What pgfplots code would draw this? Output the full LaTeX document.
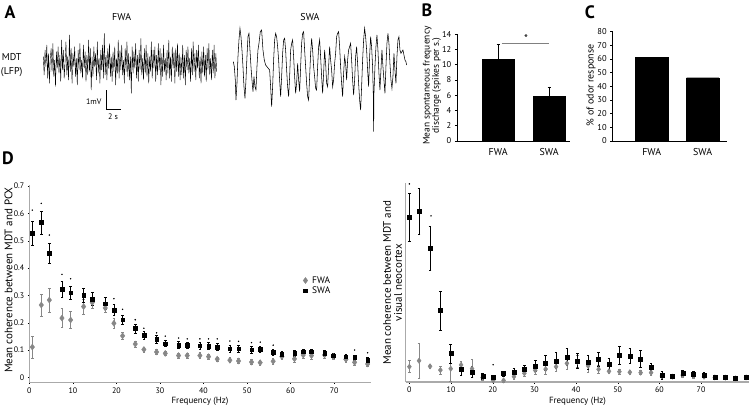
\documentclass[border=0pt]{standalone}
\usepackage{pgfplots}
\pgfplotsset{compat=1.18}
\usepackage{pgfplotstable}
\usepackage{fontspec}
\setmainfont{PT Sans}
\definecolor{fwagray}{RGB}{135,135,135}
\definecolor{axgray}{RGB}{170,170,170}
\newcommand{\fsz}[1]{\fontsize{#1}{#1}\selectfont}

% panel D, PCX coherence: frequency, mean, sem
\pgfplotstableread{
f v e
0.69 0.527 0.045
2.75 0.567 0.042
4.59 0.454 0.035
7.5 0.322 0.028
9.49 0.310 0.025
12.47 0.301 0.025
14.46 0.287 0.024
17.44 0.270 0.022
19.43 0.246 0.020
21.42 0.211 0.016
24.33 0.179 0.016
26.32 0.154 0.013
29.23 0.139 0.014
31.22 0.124 0.012
34.28 0.118 0.013
36.27 0.117 0.012
39.17 0.116 0.013
41.16 0.115 0.012
43.15 0.111 0.012
46.06 0.105 0.012
48.05 0.105 0.012
51.03 0.101 0.012
53.02 0.104 0.011
56.0 0.093 0.011
58.0 0.085 0.010
60.9 0.088 0.011
62.9 0.094 0.010
64.8 0.094 0.010
67.8 0.088 0.010
69.8 0.080 0.009
72.7 0.076 0.009
74.7 0.073 0.009
77.7 0.063 0.009
}\swapcx
\pgfplotstableread{
f v e
0.69 0.111 0.040
2.75 0.265 0.040
4.59 0.283 0.044
7.5 0.217 0.034
9.49 0.210 0.032
12.47 0.259 0.028
14.46 0.274 0.020
17.44 0.254 0.017
19.43 0.198 0.020
21.42 0.152 0.014
24.33 0.122 0.011
26.32 0.102 0.009
29.23 0.093 0.008
31.22 0.088 0.008
34.28 0.080 0.009
36.27 0.080 0.009
39.17 0.080 0.010
41.16 0.076 0.009
43.15 0.067 0.008
46.06 0.063 0.009
48.05 0.060 0.010
51.03 0.056 0.009
53.02 0.054 0.008
56.0 0.059 0.010
58.0 0.076 0.011
60.9 0.068 0.013
62.9 0.082 0.013
64.8 0.080 0.012
67.8 0.082 0.011
69.8 0.076 0.010
72.7 0.066 0.010
74.7 0.055 0.010
77.7 0.049 0.008
}\fwapcx
\pgfplotstableread{
f v
0.69 0.612
2.75 0.637
4.59 0.521
7.5 0.377
9.49 0.361
19.43 0.288
21.42 0.249
24.33 0.211
26.32 0.180
29.23 0.163
31.22 0.151
34.28 0.144
36.27 0.141
39.17 0.141
41.16 0.141
43.15 0.141
46.06 0.133
48.05 0.132
51.03 0.127
53.02 0.129
56.0 0.118
74.7 0.100
77.7 0.090
}\starpcx

% panel D, visual neocortex coherence (no scale given, 0..1 of the axis)
\pgfplotstableread{
f v e
0 0.829 0.119
2.32 0.859 0.117
4.96 0.673 0.109
7.44 0.359 0.099
9.92 0.143 0.048
12.4 0.062 0.027
15.04 0.050 0.027
17.6 0.030 0.015
20.1 0.025 0.010
22.6 0.042 0.012
25.1 0.050 0.017
27.6 0.064 0.022
30.2 0.081 0.026
32.7 0.097 0.039
35.2 0.107 0.040
37.8 0.126 0.042
40.3 0.107 0.038
42.9 0.101 0.035
45.4 0.114 0.037
47.9 0.091 0.028
50.4 0.133 0.045
52.9 0.131 0.038
55.5 0.117 0.041
58.0 0.077 0.018
60.6 0.034 0.020
63.1 0.029 0.012
65.6 0.044 0.015
68.2 0.039 0.013
70.7 0.035 0.014
73.3 0.025 0.010
75.8 0.025 0.008
78.3 0.018 0.008
80.8 0.023 0.008
}\swavis
\pgfplotstableread{
f v e
0 0.077 0.030
2.32 0.107 0.088
4.96 0.079 0.010
7.44 0.060 0.020
9.92 0.067 0.065
12.4 0.086 0.020
15.04 0.067 0.045
17.6 0.023 0.015
20.1 0.008 0.008
22.6 0.008 0.008
25.1 0.027 0.012
27.6 0.044 0.015
30.2 0.059 0.020
32.7 0.065 0.028
35.2 0.077 0.025
37.8 0.094 0.030
40.3 0.102 0.030
42.9 0.081 0.030
45.4 0.064 0.020
47.9 0.054 0.012
50.4 0.052 0.012
52.9 0.049 0.010
55.5 0.047 0.010
58.0 0.047 0.012
60.6 0.030 0.012
63.1 0.027 0.010
65.6 0.035 0.012
68.2 0.030 0.010
70.7 0.027 0.010
73.3 0.023 0.008
75.8 0.022 0.008
78.3 0.018 0.008
80.8 0.023 0.008
}\fwavis

\pgfplotsset{
  panel/.style={scale only axis, anchor=south west,
    tick label style={font=\fsz{8}},
    /pgf/number format/assume math mode=true},
  trace/.style={scale only axis, anchor=south west, hide axis, clip=false},
  barpanel/.style={panel, axis x line=bottom, axis y line=left,
    axis line style={-, black, line width=0.6bp},
    tick style={black, line width=0.6bp}, tick align=outside,
    major tick length=2.5bp, major x tick style={draw=none},
    xtick={0,1}, xticklabels={FWA,SWA},
    y tick label style={font=\fsz{8.5}},
    x tick label style={font=\fsz{10}, yshift=-1bp},
    ylabel style={font=\fsz{9.5}, align=center},
    ybar, bar width=0.63, ymin=0},
  cohpanel/.style={panel, axis x line=bottom, axis y line=left,
    axis line style={-, axgray, line width=1.3bp},
    tick style={black, line width=0.4bp}, tick align=outside,
    major tick length=1.5bp,
    xtick={0,10,...,70},
    xlabel={Frequency (Hz)}, xlabel style={font=\fsz{9}, yshift=3bp},
    ylabel style={font=\fsz{11}, align=center}},
  fwa/.style={only marks, mark=diamond*, mark size=3bp,
    mark options={fill=fwagray, draw=fwagray},
    error bars/y dir=both, error bars/y explicit,
    error bars/error bar style={fwagray, line width=0.6bp},
    error bars/error mark options={rotate=90, mark size=1.3bp, fwagray, line width=0.6bp}},
  swa/.style={only marks, mark=square*, mark size=1.8bp,
    mark options={fill=black, draw=black},
    error bars/y dir=both, error bars/y explicit,
    error bars/error bar style={black, line width=0.6bp},
    error bars/error mark options={rotate=90, mark size=1.3bp, black, line width=0.6bp}},
}

\begin{document}
\begin{tikzpicture}[x=1bp,y=1bp]

% ---------- A: LFP traces ----------
\begin{axis}[trace, at={(43.3bp,309.3bp)}, width=173.4bp, height=66.7bp,
  xmin=0, xmax=199, ymin=-100, ymax=100]
\addplot[black, line width=0.4bp] coordinates {
(0,20)(1,-35)(2,40)(3,-10)(4,55)(5,-45)(6,30)(7,-60)(8,15)(9,45)(10,-25)(11,60)(12,-40)(13,10)(14,-70)(15,35)(16,-15)(17,50)(18,-30)(19,25)
(20,-55)(21,70)(22,-20)(23,40)(24,-45)(25,5)(26,65)(27,-35)(28,20)(29,-50)(30,85)(31,-25)(32,45)(33,-60)(34,30)(35,-10)(36,50)(37,-40)(38,15)(39,-65)
(40,40)(41,-20)(42,60)(43,-30)(44,10)(45,-45)(46,55)(47,-15)(48,35)(49,-55)(50,25)(51,-35)(52,70)(53,-25)(54,45)(55,-80)(56,20)(57,-40)(58,50)(59,-10)
(60,30)(61,-50)(62,65)(63,-30)(64,15)(65,-60)(66,40)(67,-20)(68,55)(69,-45)(70,90)(71,-35)(72,25)(73,-50)(74,45)(75,-15)(76,60)(77,-40)(78,20)(79,-55)
(80,35)(81,-25)(82,50)(83,-65)(84,15)(85,-30)(86,70)(87,-45)(88,40)(89,-20)(90,55)(91,-35)(92,10)(93,-60)(94,45)(95,-25)(96,65)(97,-40)(98,30)(99,-50)
(100,20)(101,-90)(102,50)(103,-30)(104,35)(105,-15)(106,60)(107,-45)(108,25)(109,-55)(110,40)(111,-20)(112,75)(113,-35)(114,15)(115,-50)(116,45)(117,-30)(118,55)(119,-40)
(120,30)(121,-60)(122,20)(123,-25)(124,65)(125,-45)(126,40)(127,-15)(128,50)(129,-55)(130,25)(131,-35)(132,60)(133,-20)(134,45)(135,-65)(136,30)(137,-40)(138,55)(139,-25)
(140,15)(141,-50)(142,40)(143,-30)(144,70)(145,-45)(146,20)(147,-55)(148,50)(149,-15)(150,35)(151,-60)(152,45)(153,-25)(154,60)(155,-40)(156,30)(157,-50)(158,20)(159,-35)
(160,55)(161,-45)(162,25)(163,-65)(164,40)(165,-20)(166,50)(167,-30)(168,15)(169,-55)(170,45)(171,-35)(172,65)(173,-25)(174,30)(175,-50)(176,40)(177,-15)(178,55)(179,-45)
(180,20)(181,-60)(182,35)(183,-30)(184,50)(185,-40)(186,25)(187,-55)(188,45)(189,-20)(190,60)(191,-35)(192,15)(193,-50)(194,40)(195,-30)(196,55)(197,-45)(198,30)(199,-25)
};
\end{axis}

\begin{axis}[trace, at={(233.3bp,274.3bp)}, width=173.3bp, height=106.7bp,
  xmin=700, xmax=1220, ymin=-395, ymax=-75]
\addplot[black, line width=0.55bp] coordinates {
(700,-185)(703,-200)(706,-240)(708,-300)(711,-250)(714,-170)(717,-120)(720,-85)(723,-110)(726,-150)
(729,-200)(732,-260)(735,-295)(738,-240)(741,-170)(744,-110)(747,-100)(750,-150)(753,-200)(756,-240)
(759,-275)(762,-230)(765,-260)(768,-270)(771,-200)(774,-150)(777,-130)(781,-95)(785,-90)(789,-150)
(793,-180)(797,-195)(801,-200)(805,-205)(809,-210)(812,-260)(815,-320)(818,-260)(821,-180)(824,-120)
(827,-100)(830,-110)(833,-140)(836,-180)(839,-240)(842,-290)(845,-230)(848,-160)(851,-120)(854,-115)
(857,-150)(860,-210)(863,-260)(866,-290)(869,-230)(872,-150)(875,-130)(878,-120)(881,-170)(884,-230)
(887,-280)(890,-250)(893,-190)(896,-240)(899,-275)(902,-200)(905,-130)(908,-100)(911,-95)(914,-150)
(917,-200)(920,-250)(923,-290)(926,-300)(929,-230)(932,-160)(935,-115)(938,-150)(941,-200)(944,-230)
(947,-265)(950,-270)(953,-200)(956,-140)(959,-120)(962,-170)(965,-230)(968,-280)(971,-220)(974,-150)
(977,-190)(980,-250)(983,-260)(986,-200)(989,-140)(992,-180)(995,-210)(998,-260)(1001,-240)(1004,-190)
(1007,-160)(1010,-110)(1013,-100)(1016,-95)(1019,-140)(1022,-200)(1025,-250)(1028,-290)(1031,-220)(1034,-170)
(1037,-190)(1040,-240)(1043,-180)(1046,-150)(1049,-140)(1052,-130)(1055,-180)(1058,-240)(1061,-285)(1064,-240)
(1067,-170)(1070,-140)(1073,-190)(1076,-250)(1079,-300)(1082,-330)(1085,-260)(1088,-180)(1091,-120)(1094,-85)
(1097,-110)(1100,-150)(1103,-210)(1106,-260)(1109,-170)(1112,-110)(1115,-140)(1118,-200)(1120,-280)(1121,-395)
(1122,-280)(1125,-200)(1128,-140)(1131,-105)(1134,-150)(1137,-220)(1140,-270)(1143,-210)(1146,-150)(1149,-200)
(1152,-240)(1155,-280)(1158,-200)(1161,-130)(1164,-100)(1167,-130)(1170,-190)(1173,-240)(1176,-265)(1179,-230)
(1182,-160)(1185,-210)(1188,-250)(1191,-170)(1194,-120)(1197,-110)(1200,-150)(1203,-160)(1206,-155)(1209,-150)
(1212,-165)(1215,-180)(1218,-185)(1220,-195)
};
\end{axis}

% scale bar
\draw[black, line width=0.7bp] (106,316) -- (106,296.7) -- (120.7,296.7);
\node[anchor=east, font=\fsz{8}] at (105,304.3) {1mV};
\node[font=\fsz{8}] at (113,289.3) {2 s};
\node[font=\fsz{10}] at (121.7,389.3) {FWA};
\node[font=\fsz{10}] at (310,389.3) {SWA};
\node[font=\fsz{10}] at (11.7,349.3) {MDT};
\node[font=\fsz{10}] at (11.7,334.3) {(LFP)};

% ---------- B ----------
\begin{axis}[barpanel, at={(457.3bp,265bp)}, width=112.7bp, height=106.7bp,
  xmin=-0.8, xmax=1.41, ymax=14, ytick={0,2,...,14},
  ylabel={Mean spontaneous frequency\\discharge (spikes per s.)},
  ylabel style={at={(axis description cs:-0.225,0.52)}, anchor=center}]
\addplot[fill=black, draw=black,
  error bars/.cd, y dir=plus, y explicit,
  error bar style={black, line width=0.6bp},
  error mark options={rotate=90, mark size=1.5bp, black}]
  coordinates {(0,10.72) +- (0,1.97) (1,5.9) +- (0,1.22)};
\draw[gray, line width=1bp] (axis cs:0.07,12.82) -- (axis cs:1.0,12.82);
\node[font=\fsz{11}] at (axis cs:0.55,13.5) {*};
\end{axis}

% ---------- C ----------
\begin{axis}[barpanel, at={(612.7bp,265bp)}, width=114bp, height=109.3bp,
  xmin=-0.765, xmax=1.47, ymax=80, ytick={0,10,...,80},
  ylabel={\% of odor response},
  ylabel style={at={(axis description cs:-0.19,0.51)}, anchor=center, font=\fsz{10}}]
\addplot[fill=black, draw=black] coordinates {(0,61.3) (1,46.3)};
\end{axis}

% ---------- D, left ----------
\begin{axis}[cohpanel, at={(29.3bp,23.7bp)}, width=341.4bp, height=197.3bp,
  xmin=0, xmax=78.4, ymin=-0.018, ymax=0.704,
  ytick={0,0.1,0.2,0.3,0.4,0.5,0.6,0.7},
  yticklabel style={/pgf/number format/fixed, /pgf/number format/precision=1},
  ylabel={Mean coherence between MDT and PCX},
  ylabel style={at={(axis description cs:-0.061,0.518)}, anchor=center},
  legend style={at={(0.793,0.49)}, anchor=west, draw=none, fill=none,
    font=\fsz{9.5}, row sep=-1bp, nodes={inner sep=1.5bp}},
  legend cell align=left]
\addplot[fwa] table[x=f, y=v, y error=e] {\fwapcx};
\addlegendentry{\hspace{3bp}FWA}
\addplot[swa] table[x=f, y=v, y error=e] {\swapcx};
\addlegendentry{\hspace{3bp}SWA}
\addplot[only marks, mark=*, mark size=0.5bp, black, forget plot] table[x=f, y=v] {\starpcx};
\end{axis}

% ---------- D, right ----------
\begin{axis}[cohpanel, at={(405.7bp,24bp)}, width=343.5bp, height=198.7bp,
  xmin=-0.88, xmax=81.55, ymin=0, ymax=1, ytick=\empty,
  ylabel={Mean coherence between MDT and\\visual neocortex},
  ylabel style={at={(axis description cs:-0.038,0.5)}, anchor=center}]
\addplot[fwa, mark size=2.7bp] table[x=f, y=v, y error=e] {\fwavis};
\addplot[swa, mark size=2bp] table[x=f, y=v, y error=e] {\swavis};
\addplot[only marks, mark=*, mark size=0.5bp, black] coordinates {(0,0.997) (5.2,0.836) (20.1,0.087)};
\end{axis}

% panel letters
\node[font=\bfseries\fsz{18}] at (10,394) {A};
\node[font=\bfseries\fsz{18}] at (427,396) {B};
\node[font=\bfseries\fsz{18}] at (590,394) {C};
\node[font=\bfseries\fsz{18}] at (8,248) {D};

\pgfresetboundingbox
\useasboundingbox (0,0) rectangle (750,406);
\end{tikzpicture}
\end{document}
